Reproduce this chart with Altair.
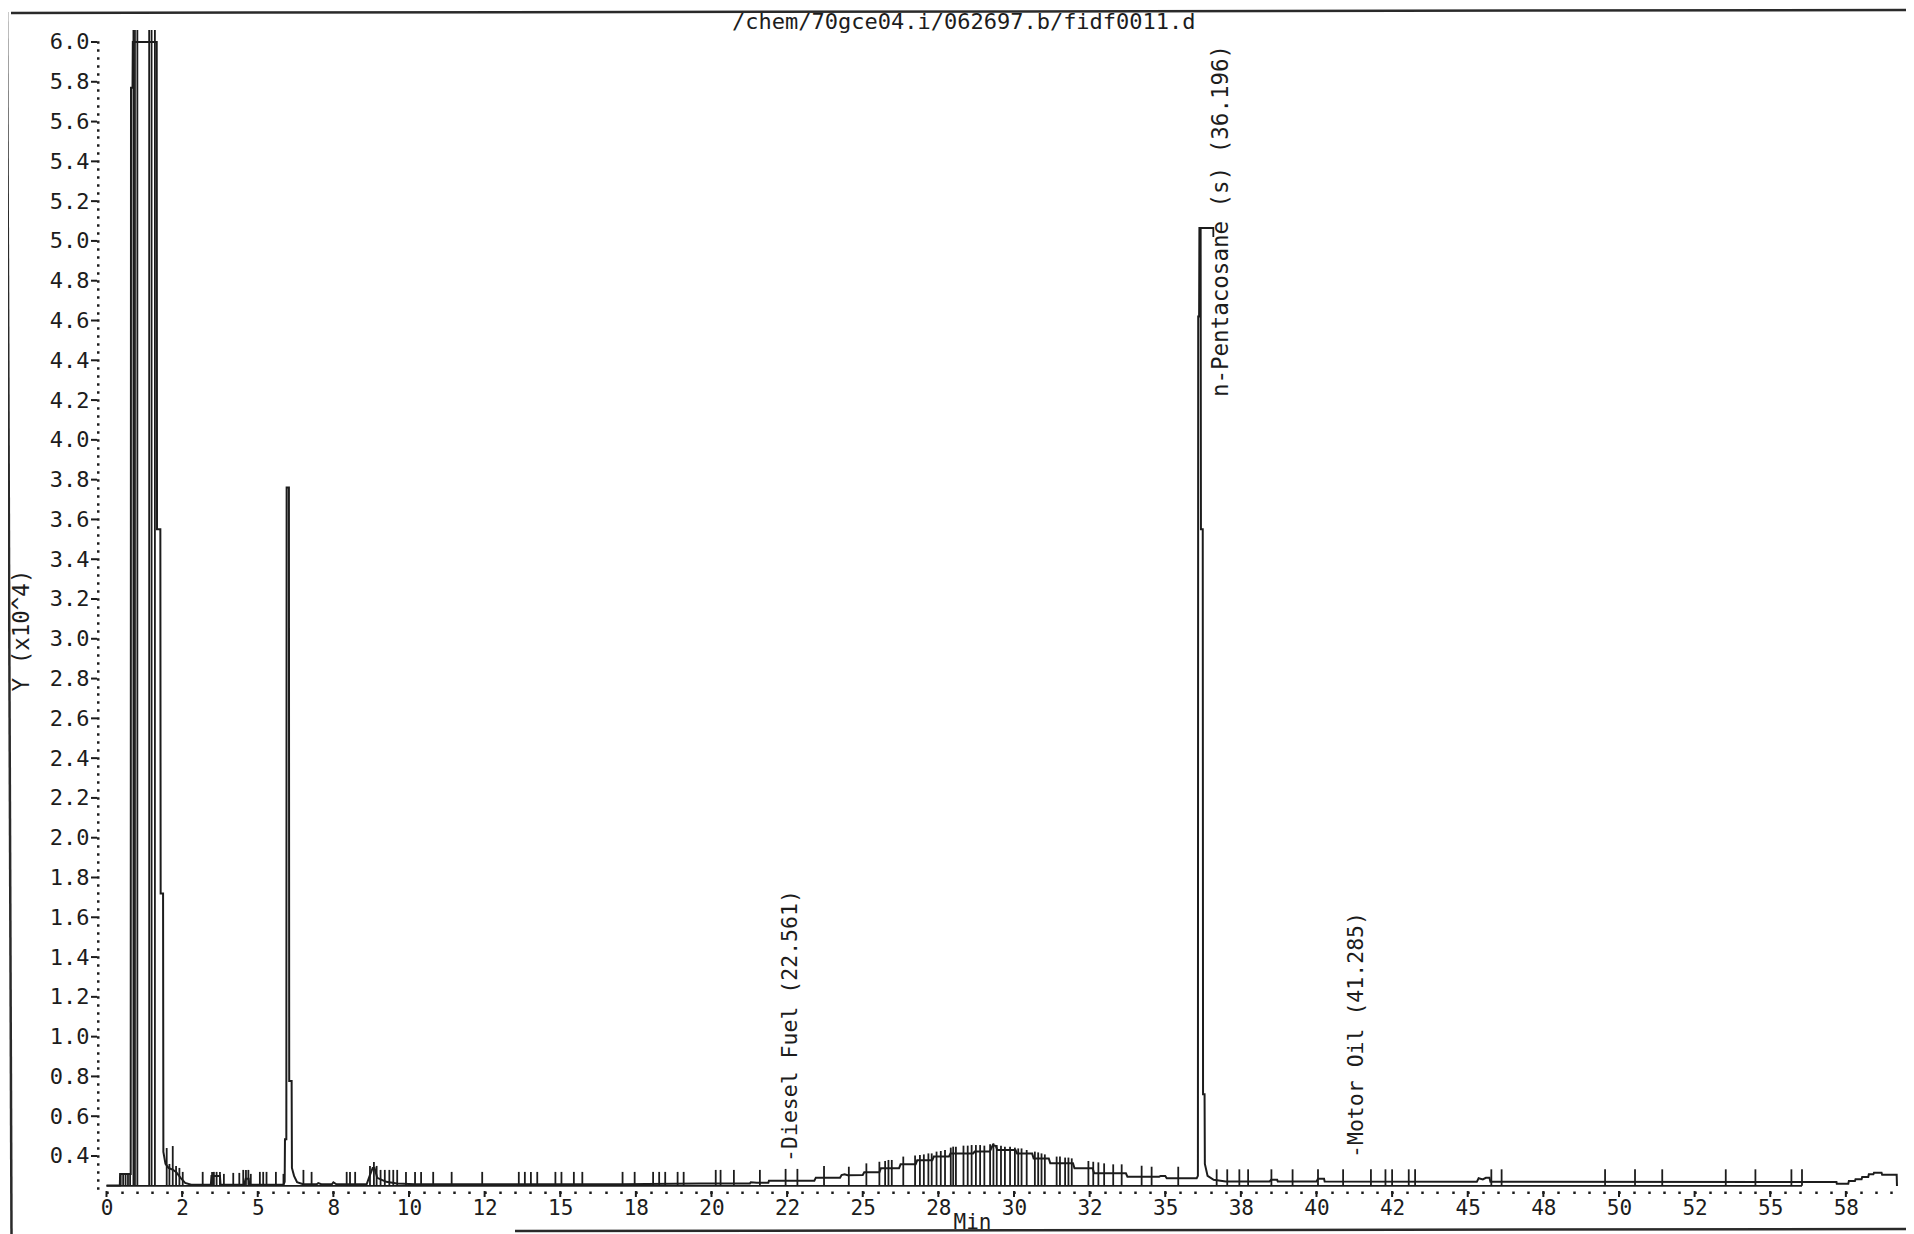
import json
import altair as alt
import pandas as pd

FONT = "DejaVu Sans Mono"
INK = "#1c1c1c"

title_text = "/chem/70gce04.i/062697.b/fidf0011.d"
x_title = "Min"
y_title = "Y (x10^4)"

# ---------------- signal trace (minutes, response x10^4), by region ----------------
solvent_t = [0.00, 0.44, 0.45, 0.80, 0.81, 0.86, 0.87, 1.66, 1.67, 1.78, 1.79, 1.87, 1.88,
             1.95, 2.05, 2.20, 2.30, 2.45, 2.60, 2.80]
solvent_y = [0.252, 0.252, 0.31, 0.31, 5.77, 5.77, 6.0, 6.0, 3.55, 3.55, 1.72, 1.72, 0.42,
             0.36, 0.34, 0.33, 0.32, 0.29, 0.265, 0.256]

early_t = [3.45, 3.47, 3.75, 3.77, 4.55, 4.60, 4.70, 4.72, 5.85, 5.89, 5.90, 5.945, 5.955,
           6.03, 6.04, 6.12, 6.13, 6.20, 6.30, 6.50, 6.95, 7.00, 7.10, 7.45, 7.50, 7.60,
           8.60, 8.70, 8.80, 8.86, 8.95, 9.10, 9.25, 9.60, 10.2, 17.0, 19.62]
early_y = [0.256, 0.30, 0.30, 0.256, 0.256, 0.285, 0.285, 0.256, 0.256, 0.27, 0.484, 0.484, 3.76,
           3.76, 0.777, 0.777, 0.34, 0.30, 0.268, 0.258, 0.258, 0.264, 0.258, 0.258, 0.268, 0.258,
           0.258, 0.30, 0.34, 0.34, 0.29, 0.28, 0.27, 0.262, 0.258, 0.258, 0.262]

hump_t = [21.27, 21.30, 21.50, 21.88, 21.90, 23.40, 23.45, 24.25, 24.30, 24.40, 24.50, 25.00,
          25.05, 25.55, 25.60, 26.20, 26.25, 26.75, 26.80, 27.30, 27.35, 27.85, 27.90, 28.65,
          28.70, 29.20, 29.30, 29.40, 29.45, 30.05, 30.10, 30.60, 30.65, 31.15, 31.20, 31.95,
          32.00, 32.60, 32.65, 33.70, 33.75, 34.80, 34.85, 35.00, 35.05, 36.04]
hump_y = [0.262, 0.268, 0.266, 0.266, 0.276, 0.276, 0.291, 0.291, 0.304, 0.308, 0.303, 0.304,
          0.318, 0.318, 0.338, 0.338, 0.358, 0.358, 0.378, 0.378, 0.397, 0.397, 0.413, 0.413,
          0.422, 0.422, 0.455, 0.45, 0.43, 0.43, 0.413, 0.413, 0.388, 0.388, 0.363, 0.363,
          0.338, 0.338, 0.313, 0.313, 0.296, 0.296, 0.30, 0.30, 0.288, 0.288]

late_t = [36.08, 36.09, 36.12, 36.13, 36.17, 36.18, 36.24, 36.25, 36.30, 36.31, 36.40, 36.60,
          37.00, 38.45, 38.50, 38.70, 38.72, 40.00, 40.05, 40.25, 40.27, 45.30, 45.36, 45.50,
          45.60, 45.72, 45.75, 55.00, 57.19, 57.20, 57.58, 57.60, 57.80, 57.82, 58.02, 58.04,
          58.24, 58.26, 58.41, 58.43, 58.68, 58.70, 59.18, 59.19]
late_y = [0.30, 4.62, 4.62, 5.065, 5.065, 3.55, 3.55, 0.71, 0.71, 0.36, 0.30, 0.28,
          0.272, 0.272, 0.28, 0.28, 0.272, 0.272, 0.285, 0.285, 0.272, 0.27, 0.288, 0.282,
          0.29, 0.29, 0.27, 0.269, 0.269, 0.261, 0.261, 0.274, 0.274, 0.283, 0.283, 0.294,
          0.294, 0.308, 0.308, 0.316, 0.316, 0.306, 0.306, 0.249]

# ---------------- integration baseline ----------------
base_t = [0.0, 56.05]
base_y = [0.25, 0.25]

# ---------------- integration / peak markers (time, top) ----------------
tick_a_t = [0.47, 0.55, 0.63, 0.71, 0.78, 0.89, 0.94, 1.02, 1.41, 1.49, 1.60,
            1.99, 2.08, 2.19, 2.30, 2.41, 2.52]
tick_a_top = [0.31, 0.31, 0.31, 0.31, 0.31, 6.1, 6.1, 6.1, 6.1, 6.1, 6.1,
              0.44, 0.36, 0.45, 0.35, 0.34, 0.32]
tick_b_t = [3.18, 3.49, 3.55, 3.64, 3.75, 3.88, 4.19, 4.39, 4.52, 4.61, 4.69, 4.77, 5.07,
            5.18, 5.29, 5.60, 5.85, 6.51, 6.78, 7.94, 8.05, 8.22, 8.71, 8.84, 8.93, 9.06,
            9.20, 9.35, 9.48, 9.61]
tick_b_top = [0.32, 0.32, 0.32, 0.32, 0.32, 0.31, 0.315, 0.315, 0.33, 0.33, 0.33, 0.31, 0.32,
              0.32, 0.32, 0.32, 0.31, 0.33, 0.32, 0.32, 0.32, 0.32, 0.35, 0.37, 0.35, 0.33,
              0.33, 0.33, 0.33, 0.33]
tick_c_t = [9.90, 10.20, 10.40, 10.80, 11.41, 12.42, 13.63, 13.83, 14.03, 14.24, 14.84,
            15.04, 15.45, 15.73, 17.06, 17.46, 18.07, 18.27, 18.47, 18.88, 19.08]
tick_c_top = [0.32, 0.32, 0.32, 0.32, 0.32, 0.32, 0.32, 0.32, 0.32, 0.32, 0.32,
              0.32, 0.32, 0.32, 0.32, 0.32, 0.32, 0.32, 0.32, 0.32, 0.32]
tick_d_t = [20.14, 20.30, 20.74, 21.60, 22.45, 22.84, 23.72, 24.54, 25.12]
tick_d_top = [0.33, 0.33, 0.33, 0.33, 0.335, 0.335, 0.35, 0.346, 0.363]
tick_e_t = [25.55, 25.74, 25.85, 25.96, 26.34, 26.73, 26.89, 27.02, 27.17, 27.28, 27.44,
            27.58, 27.72, 27.91, 27.99, 28.08, 28.33, 28.47, 28.60, 28.74, 28.88, 29.02,
            29.21, 29.32, 29.43, 29.57, 29.70, 29.87, 30.03, 30.14, 30.25, 30.42, 30.69,
            30.80, 30.91, 31.02, 31.41, 31.52, 31.69, 31.80, 31.91, 32.46, 32.62, 32.79,
            32.98, 33.28, 33.56, 34.22, 34.55, 35.43]
tick_e_top = [0.371, 0.375, 0.38, 0.38, 0.397, 0.402, 0.405, 0.408, 0.413, 0.413, 0.422,
              0.425, 0.43, 0.442, 0.447, 0.447, 0.452, 0.452, 0.455, 0.455, 0.455, 0.452,
              0.459, 0.464, 0.455, 0.452, 0.447, 0.447, 0.442, 0.438, 0.438, 0.43, 0.422,
              0.418, 0.413, 0.408, 0.397, 0.397, 0.392, 0.392, 0.388, 0.375, 0.371, 0.368,
              0.363, 0.358, 0.358, 0.351, 0.346, 0.346]
tick_f_t = [36.70, 37.05, 37.45, 37.74, 38.51, 39.21, 40.05, 40.88, 41.80, 42.28, 42.50,
            43.05, 43.26, 45.78, 46.12, 49.54, 50.53, 51.43, 53.53, 54.51, 55.70, 56.05]
tick_f_top = [0.333] * 22
tick_bottom = 0.25

# ---------------- annotations ----------------
peak_label_t = [22.561, 41.285]
peak_label_y = [0.37, 0.39]
peak_label_text = ["-Diesel Fuel (22.561)", "-Motor Oil (41.285)"]

std_label_t = [36.196]
std_label_y = [4.215]
std_label_text = ["n-Pentacosane (s) (36.196)"]

leader_t = [36.15, 36.59, 36.59]
leader_y = [5.065, 5.065, 5.02]

# ---------------- axis ticks / labels ----------------
x_dot_values = [i * 0.5 for i in range(119)]
x_label_values = [0, 2.5, 5, 7.5, 10, 12.5, 15, 17.5, 20, 22.5, 25, 27.5, 30, 32.5, 35,
                  37.5, 40, 42.5, 45, 47.5, 50, 52.5, 55, 57.5]
x_label_text = ["0", "2", "5", "8", "10", "12", "15", "18", "20", "22", "25", "28", "30",
                "32", "35", "38", "40", "42", "45", "48", "50", "52", "55", "58"]
y_dot_values = [round(0.24 + 0.04 * i, 2) for i in range(145)]
y_label_values = [round(0.4 + 0.2 * i, 1) for i in range(29)]
y_label_text = ["0.4", "0.6", "0.8", "1.0", "1.2", "1.4", "1.6", "1.8", "2.0", "2.2", "2.4",
                "2.6", "2.8", "3.0", "3.2", "3.4", "3.6", "3.8", "4.0", "4.2", "4.4", "4.6",
                "4.8", "5.0", "5.2", "5.4", "5.6", "5.8", "6.0"]

# ---------------- assemble tables ----------------
trace_t = solvent_t + early_t + hump_t + late_t
trace_y = solvent_y + early_y + hump_y + late_y
assert len(trace_t) == len(trace_y)
trace_df = pd.DataFrame({"t": trace_t, "y": trace_y, "i": range(len(trace_t))})

tick_t = tick_a_t + tick_b_t + tick_c_t + tick_d_t + tick_e_t + tick_f_t
tick_top = tick_a_top + tick_b_top + tick_c_top + tick_d_top + tick_e_top + tick_f_top
assert len(tick_t) == len(tick_top)
tick_df = pd.DataFrame({"t": tick_t, "top": tick_top, "bottom": [tick_bottom] * len(tick_t)})

base_df = pd.DataFrame({"t": base_t, "y": base_y})
leader_df = pd.DataFrame({"t": leader_t, "y": leader_y, "i": range(len(leader_t))})
peak_lab_df = pd.DataFrame({"t": peak_label_t, "y": peak_label_y, "label": peak_label_text})
std_lab_df = pd.DataFrame({"t": std_label_t, "y": std_label_y, "label": std_label_text})
xmaj_df = pd.DataFrame({"t": x_label_values})
ymaj_df = pd.DataFrame({"y": y_label_values})
one_df = pd.DataFrame({"label": [title_text]})


def lookup_expr(values, labels):
    v = json.dumps(values)
    l = json.dumps(labels)
    return f"indexof({v}, datum.value) >= 0 ? {l}[indexof({v}, datum.value)] : ''"


W, H = 1801, 1161
xs = alt.Scale(domain=[-0.248, 59.29], nice=False, zero=False)
ys = alt.Scale(domain=[0.224, 6.0603], nice=False, zero=False)

x_axis = alt.Axis(
    values=x_dot_values, labelExpr=lookup_expr(x_label_values, x_label_text),
    domain=False, grid=False, tickSize=2.5, tickWidth=2.5, tickColor=INK,
    labelFont=FONT, labelFontSize=21, labelColor=INK, labelPadding=15,
    labelBaseline="middle", labelOverlap=False, labelFlush=False, labelBound=False,
    title=x_title, titleFont=FONT, titleFontSize=21, titleFontWeight="normal",
    titleColor=INK, titleX=873, titleY=37, titleBaseline="alphabetic", titleAlign="center",
)
y_axis = alt.Axis(
    values=y_dot_values, labelExpr=lookup_expr(y_label_values, y_label_text),
    domain=False, grid=False, tickSize=2.5, tickWidth=2.5, tickColor=INK,
    labelFont=FONT, labelFontSize=22, labelColor=INK, labelPadding=7.5,
    labelBaseline="middle", labelOverlap=False, labelFlush=False, labelBound=False,
    title=y_title, titleFont=FONT, titleFontSize=22.5, titleFontWeight="normal",
    titleColor=INK, titleAngle=270, titleX=-78, titleY=600, titleAlign="center",
    titleBaseline="middle",
)


def X(field):
    return alt.X(f"{field}:Q", scale=xs, axis=x_axis)


def Y(field):
    return alt.Y(f"{field}:Q", scale=ys, axis=y_axis)


trace = alt.Chart(trace_df).mark_line(color=INK, strokeWidth=2.0, clip=True).encode(
    x=X("t"), y=Y("y"), order="i:Q")

baseline = alt.Chart(base_df).mark_line(color=INK, strokeWidth=1.7, clip=True).encode(
    x=X("t"), y=Y("y"))

ticks = alt.Chart(tick_df).mark_rule(color=INK, strokeWidth=1.8, clip=True).encode(
    x=X("t"), y=Y("bottom"), y2="top:Q")

leader = alt.Chart(leader_df).mark_line(color=INK, strokeWidth=1.8).encode(
    x=X("t"), y=Y("y"), order="i:Q")

peak_labels = alt.Chart(peak_lab_df).mark_text(
    angle=270, align="left", baseline="middle", dy=2, font=FONT, fontSize=21.5, color=INK
).encode(x=X("t"), y=Y("y"), text="label:N")

std_labels = alt.Chart(std_lab_df).mark_text(
    angle=270, align="left", baseline="middle", dy=20, font=FONT, fontSize=22.5, color=INK
).encode(x=X("t"), y=Y("y"), text="label:N")

x_major = alt.Chart(xmaj_df).mark_rule(color=INK, strokeWidth=2).encode(
    x=X("t"), y=alt.value(H), y2=alt.value(H + 6))

y_major = alt.Chart(ymaj_df).mark_rule(color=INK, strokeWidth=2).encode(
    y=Y("y"), x=alt.value(-8), x2=alt.value(-2))

frame_top = alt.Chart(one_df).mark_rule(color="#2a2a2a", strokeWidth=2.5).encode(
    x=alt.value(-88), y=alt.value(-17), x2=alt.value(1807), y2=alt.value(-20))
frame_left = alt.Chart(one_df).mark_rule(color="#2a2a2a", strokeWidth=2.5).encode(
    x=alt.value(-92), y=alt.value(-18), x2=alt.value(-87.5), y2=alt.value(1204))
frame_bottom = alt.Chart(one_df).mark_rule(color="#2a2a2a", strokeWidth=2.5).encode(
    x=alt.value(416), y=alt.value(1201), x2=alt.value(1807), y2=alt.value(1199))

title = alt.Chart(one_df).mark_text(
    align="left", baseline="alphabetic", font=FONT, fontSize=22, color=INK
).encode(text="label:N", x=alt.value(633), y=alt.value(-1))

chart = alt.layer(
    baseline, ticks, trace, leader, peak_labels, std_labels, x_major, y_major,
    frame_top, frame_left, frame_bottom, title
).properties(
    width=W, height=H,
    padding={"left": 91, "top": 22, "right": 6, "bottom": 43},
    autosize=alt.AutoSizeParams(type="none"),
    background="white",
).configure_view(stroke=None)

chart.save("out.html", embed_options={"renderer": "svg", "actions": False})
